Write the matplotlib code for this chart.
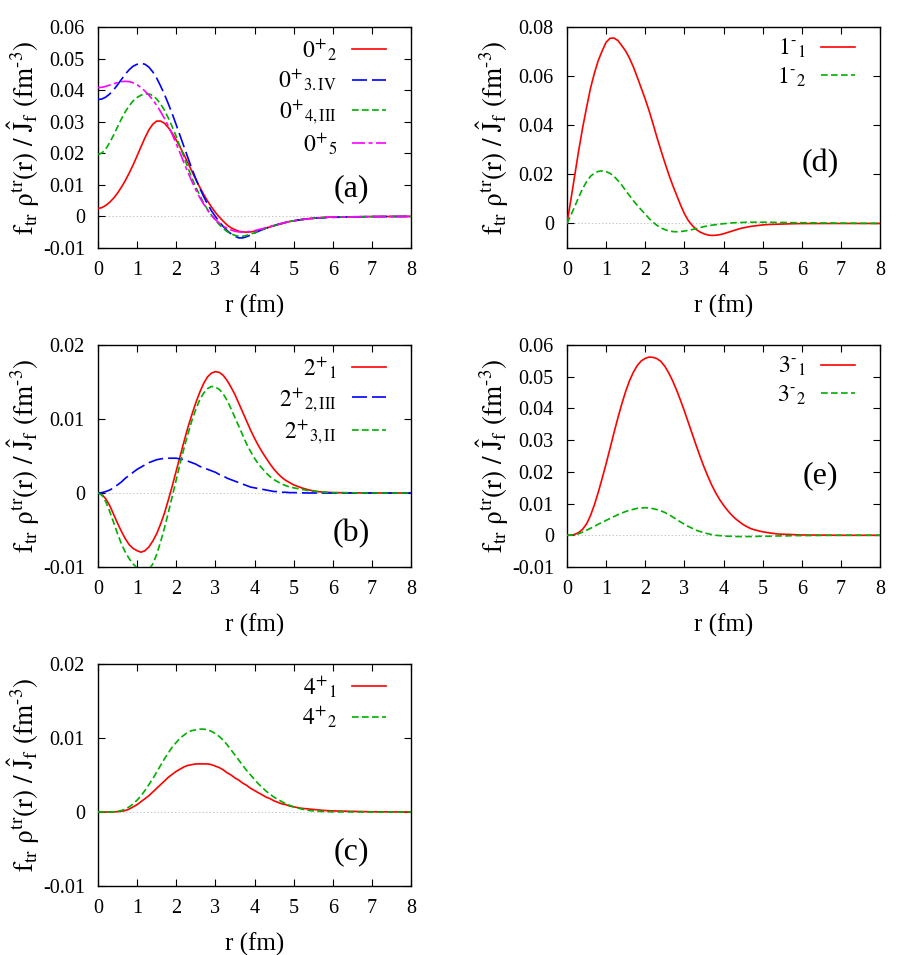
import matplotlib
matplotlib.use('Agg')
import matplotlib.pyplot as plt
from matplotlib.ticker import MultipleLocator, FuncFormatter

plt.rcParams['font.family'] = ['Liberation Serif', 'DejaVu Serif']
plt.rcParams['mathtext.fontset'] = 'stix'
plt.rcParams['axes.unicode_minus'] = False
plt.rcParams['lines.scale_dashes'] = False

# ---------------- data ----------------
r = [0.0, 0.1, 0.2, 0.3, 0.4, 0.5, 0.6, 0.7, 0.8, 0.9,
     1.0, 1.1, 1.2, 1.3, 1.4, 1.5, 1.6, 1.7, 1.8, 1.9,
     2.0, 2.1, 2.2, 2.3, 2.4, 2.5, 2.6, 2.7, 2.8, 2.9,
     3.0, 3.1, 3.2, 3.3, 3.4, 3.5, 3.6, 3.7, 3.8, 3.9,
     4.0, 4.1, 4.2, 4.3, 4.4, 4.5, 4.6, 4.7, 4.8, 4.9,
     5.0, 5.2, 5.4, 5.6, 5.8, 6.0, 7.0, 8.0]

# (a) 0+ states
a_0p2 = [0.0025, 0.0028, 0.0035, 0.0045, 0.0058, 0.0074, 0.0093, 0.0114, 0.0138, 0.0164,
         0.0192, 0.0221, 0.0249, 0.0274, 0.0292, 0.0302, 0.0302, 0.0295, 0.0281, 0.0263,
         0.0242, 0.0219, 0.0195, 0.0169, 0.0143, 0.0117, 0.0093, 0.0070, 0.0049, 0.0030,
         0.0013, -0.0002, -0.0015, -0.0027, -0.0036, -0.0042, -0.0047, -0.0049, -0.0050, -0.0049,
         -0.0047, -0.0044, -0.0041, -0.0037, -0.0033, -0.0030, -0.0026, -0.0023, -0.0019, -0.0016,
         -0.0014, -0.0010, -0.0007, -0.0005, -0.0003, -0.0002, -0.00005, 0.0]
a_0p3 = [0.0370, 0.0372, 0.0378, 0.0388, 0.0401, 0.0417, 0.0434, 0.0451, 0.0465, 0.0476,
         0.0482, 0.0485, 0.0482, 0.0473, 0.0458, 0.0438, 0.0413, 0.0386, 0.0356, 0.0324,
         0.0290, 0.0255, 0.0220, 0.0185, 0.0151, 0.0119, 0.0090, 0.0063, 0.0039, 0.0018,
         0.0000, -0.0017, -0.0032, -0.0045, -0.0055, -0.0063, -0.0068, -0.0068, -0.0064, -0.0059,
         -0.0053, -0.0047, -0.0042, -0.0037, -0.0033, -0.0029, -0.0025, -0.0022, -0.0019, -0.0016,
         -0.0014, -0.0010, -0.0007, -0.0005, -0.0004, -0.0003, -0.00005, 0.0]
a_0p4 = [0.0196, 0.0201, 0.0214, 0.0234, 0.0258, 0.0284, 0.0309, 0.0332, 0.0351, 0.0366,
         0.0377, 0.0384, 0.0388, 0.0388, 0.0383, 0.0372, 0.0356, 0.0336, 0.0311, 0.0283,
         0.0253, 0.0220, 0.0187, 0.0154, 0.0122, 0.0093, 0.0067, 0.0043, 0.0022, 0.0004,
         -0.0012, -0.0026, -0.0038, -0.0048, -0.0055, -0.0060, -0.0063, -0.0063, -0.0060, -0.0056,
         -0.0052, -0.0047, -0.0042, -0.0037, -0.0033, -0.0029, -0.0025, -0.0022, -0.0019, -0.0016,
         -0.0014, -0.0010, -0.0007, -0.0005, -0.0003, -0.0002, -0.00005, 0.0]
a_0p5 = [0.0408, 0.0409, 0.0412, 0.0416, 0.0420, 0.0424, 0.0427, 0.0428, 0.0427, 0.0423,
         0.0417, 0.0408, 0.0397, 0.0384, 0.0369, 0.0352, 0.0332, 0.0310, 0.0286, 0.0259,
         0.0230, 0.0200, 0.0169, 0.0139, 0.0111, 0.0084, 0.0060, 0.0039, 0.0020, 0.0004,
         -0.0010, -0.0021, -0.0031, -0.0038, -0.0043, -0.0047, -0.0049, -0.0050, -0.0049, -0.0047,
         -0.0045, -0.0042, -0.0039, -0.0035, -0.0032, -0.0028, -0.0025, -0.0022, -0.0019, -0.0016,
         -0.0014, -0.0010, -0.0007, -0.0005, -0.0003, -0.0002, -0.00005, 0.0]

# (d) 1- states
d_1m1 = [0.0, 0.0098, 0.0198, 0.0298, 0.0390, 0.0472, 0.0550, 0.0612, 0.0664, 0.0703,
         0.0738, 0.0754, 0.0755, 0.0745, 0.0724, 0.0702, 0.0672, 0.0636, 0.0594, 0.0550,
         0.0506, 0.0458, 0.0405, 0.0350, 0.0298, 0.0248, 0.0200, 0.0156, 0.0116, 0.0076,
         0.0040, 0.0012, -0.0008, -0.0024, -0.0035, -0.0042, -0.0047, -0.0049, -0.0048, -0.0046,
         -0.0042, -0.0037, -0.0032, -0.0027, -0.0022, -0.0018, -0.0015, -0.0012, -0.0010, -0.0008,
         -0.0006, -0.0004, -0.0003, -0.0002, -0.0001, -0.00005, 0.0, 0.0]
d_1m2 = [0.0, 0.0034, 0.0070, 0.0107, 0.0142, 0.0170, 0.0192, 0.0205, 0.0212, 0.0214,
         0.0211, 0.0204, 0.0192, 0.0175, 0.0156, 0.0134, 0.0113, 0.0092, 0.0073, 0.0055,
         0.0038, 0.0020, 0.0005, -0.0008, -0.0018, -0.0025, -0.0030, -0.0033, -0.0034, -0.0033,
         -0.0031, -0.0028, -0.0025, -0.0021, -0.0017, -0.0013, -0.0010, -0.0007, -0.0005, -0.0003,
         -0.0001, 0.0000, 0.0002, 0.0003, 0.0004, 0.0004, 0.0005, 0.0005, 0.0005, 0.0005,
         0.0005, 0.0005, 0.0004, 0.0004, 0.0003, 0.0003, 0.0001, 0.0]

# (b) 2+ states
b_2p1 = [0.0, -0.0002, -0.0008, -0.0017, -0.0029, -0.0041, -0.0052, -0.0062, -0.0070, -0.0075,
         -0.0078, -0.0080, -0.0078, -0.0073, -0.0065, -0.0055, -0.0042, -0.0027, -0.0009, 0.0010,
         0.0030, 0.0050, 0.0070, 0.0089, 0.0106, 0.0122, 0.0136, 0.0148, 0.0157, 0.0162,
         0.0164, 0.0163, 0.0159, 0.0152, 0.0143, 0.0133, 0.0121, 0.0109, 0.0097, 0.0085,
         0.0074, 0.0064, 0.0055, 0.0047, 0.0039, 0.0032, 0.0026, 0.0021, 0.0017, 0.0014,
         0.0011, 0.0007, 0.0004, 0.0002, 0.0001, 0.00005, 0.0, 0.0]
b_2p2 = [0.0, 0.00005, 0.0002, 0.0004, 0.0007, 0.0011, 0.0015, 0.0020, 0.0024, 0.0028,
         0.0032, 0.0035, 0.0038, 0.0041, 0.0043, 0.0045, 0.0046, 0.0047, 0.0047, 0.0047,
         0.0047, 0.0046, 0.0045, 0.0043, 0.0041, 0.0039, 0.0036, 0.0034, 0.0032, 0.0030,
         0.0028, 0.0025, 0.0023, 0.0020, 0.0018, 0.0016, 0.0014, 0.0012, 0.0010, 0.0008,
         0.0007, 0.0006, 0.0005, 0.0004, 0.0003, 0.0002, 0.0002, 0.0001, 0.0001, 0.00005,
         0.00005, 0.00002, 0.0, 0.0, 0.0, 0.0, 0.0, 0.0]
b_2p3 = [0.0, -0.0003, -0.0012, -0.0025, -0.0040, -0.0055, -0.0069, -0.0080, -0.0089, -0.0096,
         -0.0101, -0.0105, -0.0106, -0.0103, -0.0096, -0.0083, -0.0066, -0.0047, -0.0026, -0.0004,
         0.0018, 0.0040, 0.0061, 0.0080, 0.0098, 0.0113, 0.0126, 0.0135, 0.0141, 0.0144,
         0.0143, 0.0140, 0.0134, 0.0125, 0.0114, 0.0102, 0.0090, 0.0078, 0.0066, 0.0056,
         0.0047, 0.0039, 0.0033, 0.0027, 0.0022, 0.0018, 0.0015, 0.0012, 0.0010, 0.0008,
         0.0007, 0.0005, 0.0003, 0.0002, 0.0001, 0.00005, 0.0, 0.0]

# (e) 3- states
e_3m1 = [0.0, 0.00005, 0.0003, 0.0009, 0.0019, 0.0036, 0.0062, 0.0096, 0.0136, 0.0180,
         0.0226, 0.0274, 0.0323, 0.0370, 0.0414, 0.0454, 0.0488, 0.0515, 0.0536, 0.0550,
         0.0558, 0.0562, 0.0561, 0.0557, 0.0548, 0.0533, 0.0512, 0.0487, 0.0458, 0.0426,
         0.0392, 0.0356, 0.0320, 0.0284, 0.0249, 0.0216, 0.0186, 0.0158, 0.0134, 0.0113,
         0.0095, 0.0079, 0.0065, 0.0053, 0.0043, 0.0034, 0.0027, 0.0021, 0.0017, 0.0014,
         0.0011, 0.0007, 0.0004, 0.0003, 0.0002, 0.0001, 0.0, 0.0]
e_3m2 = [0.0, 0.00005, 0.0002, 0.0005, 0.0010, 0.0016, 0.0022, 0.0028, 0.0035, 0.0041,
         0.0047, 0.0053, 0.0059, 0.0065, 0.0070, 0.0075, 0.0079, 0.0082, 0.0085, 0.0086,
         0.0087, 0.0086, 0.0084, 0.0081, 0.0077, 0.0072, 0.0065, 0.0058, 0.0050, 0.0042,
         0.0035, 0.0028, 0.0022, 0.0016, 0.0012, 0.0008, 0.0005, 0.0002, 0.0000, -0.0001,
         -0.0002, -0.0003, -0.0003, -0.0004, -0.0004, -0.0004, -0.0004, -0.0004, -0.0004, -0.0003,
         -0.0003, -0.0003, -0.0002, -0.0002, -0.0001, -0.0001, 0.0, 0.0]

# (c) 4+ states
c_4p1 = [0.0, 0.0, 0.0, 0.00001, 0.00002, 0.00005, 0.0001, 0.0002, 0.0004, 0.0007,
         0.0010, 0.0014, 0.0018, 0.0022, 0.0027, 0.0032, 0.0037, 0.0042, 0.0047, 0.0051,
         0.0055, 0.0058, 0.0061, 0.0063, 0.0064, 0.0065, 0.0065, 0.0065, 0.0065, 0.0064,
         0.0062, 0.0060, 0.0057, 0.0053, 0.0050, 0.0046, 0.0043, 0.0039, 0.0036, 0.0032,
         0.0029, 0.0026, 0.0023, 0.0020, 0.0018, 0.0015, 0.0013, 0.0011, 0.0010, 0.0008,
         0.0007, 0.0005, 0.0004, 0.0003, 0.0002, 0.00015, 0.00003, 0.0]
c_4p2 = [0.0, 0.0, 0.0, 0.00001, 0.00003, 0.00008, 0.0002, 0.0004, 0.0007, 0.0011,
         0.0016, 0.0022, 0.0029, 0.0037, 0.0045, 0.0054, 0.0063, 0.0072, 0.0080, 0.0088,
         0.0094, 0.0100, 0.0104, 0.0108, 0.0110, 0.0111, 0.0112, 0.0112, 0.0111, 0.0109,
         0.0106, 0.0102, 0.0097, 0.0091, 0.0084, 0.0077, 0.0070, 0.0063, 0.0056, 0.0050,
         0.0044, 0.0038, 0.0033, 0.0028, 0.0024, 0.0020, 0.0017, 0.0014, 0.0011, 0.0009,
         0.0007, 0.0004, 0.0002, 0.0001, 0.00005, 0.00002, 0.0, 0.0]

# ---------------- styles ----------------
RED = dict(color='#ff0000', lw=1.2, ls='-')
BLUE = dict(color='#0000ff', lw=1.2, ls=(0, (10.8, 3.6)))
GREEN = dict(color='#00b000', lw=1.2, ls=(0, (4.8, 2.4)))
MAG = dict(color='#ff00ff', lw=1.2, ls=(0, (9.4, 2.5, 2.9, 2.5)))

W, H = 919, 955
fig = plt.figure(figsize=(W / 100, H / 100), dpi=100)


def add_ax(l, t, rr, b):
    return fig.add_axes([l / W, 1 - b / H, (rr - l) / W, (b - t) / H])


def fmt(v, p):
    if abs(v) < 1e-9:
        return '0'
    return '%g' % round(v, 6)


YLABEL = r'$\mathrm{f_{tr}\ \rho^{tr}(r)\ /\ \hat{J}_{f}\ (fm^{\text{-}3})}$'


def setup(ax, ylim, ystep, tag, tagy, series):
    ax.axhline(0, color='#bbbbbb', lw=0.6, ls=(0, (1, 1.5)), zorder=1)
    for y, lab, st in series:
        ax.plot(r, y, label=lab, zorder=3, **st)
    ax.set_xlim(0, 8)
    ax.set_ylim(*ylim)
    ax.xaxis.set_major_locator(MultipleLocator(1))
    ax.yaxis.set_major_locator(MultipleLocator(ystep))
    ax.yaxis.set_major_formatter(FuncFormatter(fmt))
    ax.tick_params(direction='in', length=5, width=0.8, top=True, right=True,
                   labelsize=14.5, pad=9.5)
    for s in ax.spines.values():
        s.set_linewidth(1.0)
    ax.set_xlabel('r (fm)', fontsize=18)
    ax.xaxis.set_label_coords(0.5, -0.21)
    ax.set_ylabel(YLABEL, fontsize=19.5)
    ax.yaxis.set_label_coords(-0.18, 0.5)
    ax.text(0.81, tagy, tag, transform=ax.transAxes, fontsize=23,
            ha='center', va='center')
    ax.legend(loc='upper right', bbox_to_anchor=(0.92, 0.955), frameon=False,
              markerfirst=False, fontsize=17, handlelength=1.45, handletextpad=0.63,
              borderpad=0, borderaxespad=0, labelspacing=0.22)


ax_a = add_ax(98, 27, 411, 248)
setup(ax_a, (-0.01, 0.06), 0.01, '(a)', 0.27, [
    (a_0p2, r'$0^{+}{}_{2}$', RED),
    (a_0p3, r'$0^{+}{}_{\mathrm{3.IV}}$', BLUE),
    (a_0p4, r'$0^{+}{}_{\mathrm{4,III}}$', GREEN),
    (a_0p5, r'$0^{+}{}_{5}$', MAG),
])

ax_d = add_ax(567, 27, 880, 248)
setup(ax_d, (-0.01, 0.08), 0.02, '(d)', 0.38, [
    (d_1m1, r'$1^{\text{-}}{}_{1}$', RED),
    (d_1m2, r'$1^{\text{-}}{}_{2}$', GREEN),
])

ax_b = add_ax(98, 345, 411, 567)
setup(ax_b, (-0.01, 0.02), 0.01, '(b)', 0.15, [
    (b_2p1, r'$2^{+}{}_{1}$', RED),
    (b_2p2, r'$2^{+}{}_{\mathrm{2,III}}$', BLUE),
    (b_2p3, r'$2^{+}{}_{\mathrm{3,II}}$', GREEN),
])

ax_e = add_ax(567, 345, 880, 567)
setup(ax_e, (-0.01, 0.06), 0.01, '(e)', 0.41, [
    (e_3m1, r'$3^{\text{-}}{}_{1}$', RED),
    (e_3m2, r'$3^{\text{-}}{}_{2}$', GREEN),
])

ax_c = add_ax(98, 664, 411, 886)
setup(ax_c, (-0.01, 0.02), 0.01, '(c)', 0.153, [
    (c_4p1, r'$4^{+}{}_{1}$', RED),
    (c_4p2, r'$4^{+}{}_{2}$', GREEN),
])

fig.savefig('out.png', dpi=100)
